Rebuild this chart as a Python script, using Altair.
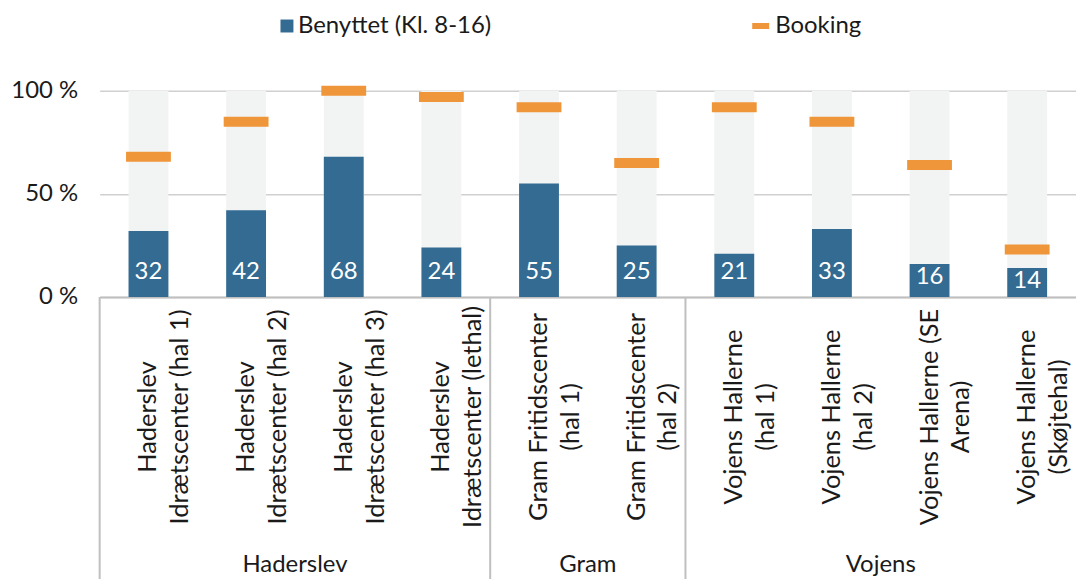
import altair as alt
import pandas as pd

categories = [
    "Haderslev|Idrætscenter (hal 1)",
    "Haderslev|Idrætscenter (hal 2)",
    "Haderslev|Idrætscenter (hal 3)",
    "Haderslev|Idrætscenter (lethal)",
    "Gram Fritidscenter|(hal 1)",
    "Gram Fritidscenter|(hal 2)",
    "Vojens Hallerne|(hal 1)",
    "Vojens Hallerne|(hal 2)",
    "Vojens Hallerne (SE|Arena)",
    "Vojens Hallerne|(Skøjtehal)",
]
benyttet = [32, 42, 68, 24, 55, 25, 21, 33, 16, 14]
booking = [68, 85, 100, 97, 92, 65, 92, 85, 64, 23]
capacity = [100] * 10

group_names = ["Haderslev", "Gram", "Vojens"]
group_label_anchor = [categories[1], categories[4], categories[7]]
group_start = [categories[0], categories[4], categories[6]]

legend_labels = ["Benyttet (Kl. 8-16)", "Booking"]

BLUE = "#336b92"
ORANGE = "#f0963a"
BG = "#f2f3f3"
TXT = "#1a1a1a"
FS = 24

df = pd.DataFrame({"cat": categories, "benyttet": benyttet,
                   "booking": booking, "cap": capacity})
gdf = pd.DataFrame({"group": group_names, "anchor": group_label_anchor})
sdf = pd.DataFrame({"start": group_start})
one = pd.DataFrame({"k": [0]})

xscale = alt.Scale(domain=categories, paddingInner=0, paddingOuter=0)
xaxis = alt.Axis(
    title=None, labelAngle=270, labelAlign="center", labelBaseline="middle",
    labelPadding=120, labelLimit=400, labelLineHeight=32, labelFontSize=25.5,
    labelColor=TXT, ticks=False, labelOverlap=False,
    labelExpr="split(datum.value, '|')",
    domainColor="#bfbfbf", domainWidth=2,
)
yscale = alt.Scale(domain=[0, 100], nice=False)
yaxis = alt.Axis(
    title=None, values=[0, 50, 100], labelExpr="datum.value + ' %'",
    grid=True, gridColor="#d0d0d0", gridWidth=1.5, domain=False, ticks=False,
    labelFontSize=FS, labelColor=TXT, labelPadding=22,
)


def X(field="cat", **kw):
    return alt.X(f"{field}:N", scale=xscale, axis=xaxis, sort=categories, **kw)


base = alt.Chart(df)

bg = base.mark_bar(size=40, color=BG).encode(
    x=X(), y=alt.Y("cap:Q", scale=yscale, axis=yaxis))
bars = base.mark_bar(size=40, color=BLUE).encode(
    x=X(), y=alt.Y("benyttet:Q", scale=yscale, axis=yaxis))
labels = base.transform_calculate(
    ly="min(datum.benyttet - 6.3, 12.3)"
).mark_text(color="white", fontSize=FS, baseline="middle").encode(
    x=X(), y=alt.Y("ly:Q", scale=yscale, axis=yaxis),
    text=alt.Text("benyttet:Q"))
ticks = base.mark_tick(color=ORANGE, thickness=10, size=45, opacity=1).encode(
    x=X(), y=alt.Y("booking:Q", scale=yscale, axis=yaxis))

seps = alt.Chart(sdf).mark_rule(color="#bfbfbf", strokeWidth=2).encode(
    x=X("start", bandPosition=0), y=alt.value(207), y2=alt.value(490))
glabels = alt.Chart(gdf).mark_text(fontSize=FS, color=TXT, baseline="middle").encode(
    x=X("anchor", bandPosition=1), y=alt.value(476), text="group:N")

leg1 = alt.Chart(one).mark_square(size=169, color=BLUE, opacity=1).encode(
    x=alt.value(188), y=alt.value(-65))
leg1t = alt.Chart(one).mark_text(align="left", baseline="middle", fontSize=FS, color=TXT).encode(
    x=alt.value(199), y=alt.value(-65), text=alt.value(legend_labels[0]))
leg2 = alt.Chart(one).mark_rule(color=ORANGE, strokeWidth=6).encode(
    x=alt.value(655), x2=alt.value(672), y=alt.value(-65))
leg2t = alt.Chart(one).mark_text(align="left", baseline="middle", fontSize=FS, color=TXT).encode(
    x=alt.value(678), y=alt.value(-65), text=alt.value(legend_labels[1]))

chart = alt.layer(bg, bars, labels, ticks, seps, glabels, leg1, leg1t, leg2, leg2t).properties(
    width=980, height=207,
    autosize=alt.AutoSizeParams(type="none"),
    padding={"left": 92, "top": 82, "right": 0, "bottom": 283},
).configure(font="Lato").configure_view(stroke=None)

chart.save("out.html", embed_options={"renderer": "svg", "actions": False})
